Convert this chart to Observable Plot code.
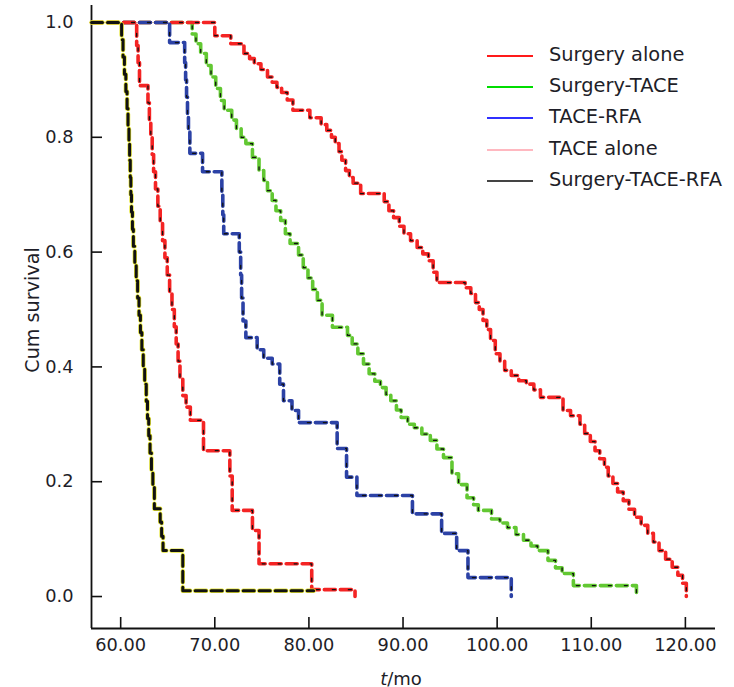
<!DOCTYPE html>
<html><head><meta charset="utf-8">
<script src="https://cdn.jsdelivr.net/npm/d3@7"></script>
<script src="https://cdn.jsdelivr.net/npm/@observablehq/plot@0.6"></script>
<style>
body{margin:0;background:#fff;}
#wrap{position:relative;width:734px;height:687px;font-family:"DejaVu Sans",Verdana,sans-serif;color:#1e1e28;overflow:hidden;}
#wrap svg.plot{position:absolute;left:0;top:0;}
.leg{position:absolute;left:487px;height:20px;}
.leg span.ln{position:absolute;left:0;top:9px;width:46px;height:2px;}
.leg span.tx{position:absolute;left:62px;top:-3px;font-size:19.4px;line-height:24px;white-space:nowrap;}
#ylab{position:absolute;left:32px;top:310px;transform:translate(-50%,-50%) rotate(-90deg);font-size:19.2px;white-space:nowrap;}
#xlab{position:absolute;left:401px;top:678px;transform:translate(-50%,-50%);font-size:18px;white-space:nowrap;}
</style>
</head><body>
<div id="wrap"></div>
<script>
// ---- data (months, cumulative survival) ----
const xTicks = [60, 70, 80, 90, 100, 110, 120];
const yTicks = [0, 0.2, 0.4, 0.6, 0.8, 1.0];
const xDomain = [56.9, 123.2];
const yDomain = [-0.0557, 1.0296];

const legendNames = ["Surgery alone", "Surgery-TACE", "TACE-RFA", "TACE alone", "Surgery-TACE-RFA"];
const legendColors = ["#ff1a1a", "#00dd00", "#3030ff", "#ffb8c0", "#444444"];

const curveYellow = [[56.9,1],[60.1,0.97],[60.25,0.94],[60.4,0.91],[60.55,0.88],[60.68,0.85],[60.78,0.82],[60.88,0.79],[60.95,0.76],[61.02,0.73],[61.08,0.70],[61.15,0.67],[61.25,0.64],[61.35,0.61],[61.5,0.58],[61.65,0.55],[61.8,0.52],[61.95,0.49],[62.1,0.46],[62.25,0.43],[62.4,0.40],[62.55,0.37],[62.72,0.34],[62.85,0.31],[62.98,0.28],[63.12,0.25],[63.27,0.22],[63.42,0.19],[63.58,0.153],[64.2,0.13],[64.35,0.105],[64.5,0.08],[66.6,0.01],[80.5,0.01]];

const curveRedLeft = [[56.9,1],[61.7,0.96],[61.85,0.93],[62.0,0.89],[62.9,0.86],[63.05,0.83],[63.2,0.80],[63.35,0.77],[63.5,0.74],[63.7,0.71],[63.95,0.68],[64.2,0.65],[64.45,0.62],[64.7,0.59],[64.95,0.56],[65.2,0.53],[65.45,0.50],[65.7,0.47],[65.9,0.44],[66.1,0.41],[66.3,0.38],[66.6,0.35],[66.95,0.33],[67.4,0.307],[68.8,0.254],[71.6,0.21],[71.85,0.15],[74.0,0.115],[74.7,0.057],[80.3,0.012],[84.9,0]];

const curveBlue = [[56.9,1],[65.2,0.965],[66.8,0.93],[66.9,0.90],[67.0,0.87],[67.1,0.84],[67.2,0.81],[67.35,0.772],[68.7,0.74],[70.75,0.70],[70.85,0.665],[70.95,0.632],[72.6,0.60],[72.75,0.56],[72.85,0.52],[73.0,0.48],[73.3,0.451],[74.5,0.43],[75.2,0.415],[76.1,0.405],[76.9,0.37],[77.3,0.341],[78.2,0.324],[78.9,0.303],[83.0,0.258],[84.0,0.208],[85.1,0.176],[91.0,0.144],[94.1,0.11],[95.7,0.08],[96.9,0.033],[101.5,0]];

const curveGreen = [[56.9,1],[67.6,0.98],[68.0,0.963],[68.5,0.946],[69.1,0.925],[69.6,0.905],[70.1,0.885],[70.6,0.864],[71.0,0.847],[71.8,0.83],[72.3,0.815],[72.8,0.80],[73.3,0.789],[74.0,0.765],[74.7,0.742],[75.2,0.725],[75.6,0.707],[76.1,0.69],[76.5,0.672],[77.0,0.655],[77.5,0.632],[78.0,0.615],[78.9,0.595],[79.4,0.573],[79.9,0.555],[80.4,0.535],[80.9,0.516],[81.4,0.49],[82.5,0.469],[84.1,0.455],[84.6,0.44],[85.2,0.423],[85.8,0.405],[86.4,0.388],[87.0,0.375],[87.6,0.364],[88.2,0.352],[88.7,0.341],[89.3,0.325],[89.8,0.312],[90.5,0.30],[91.2,0.294],[92.0,0.283],[92.9,0.272],[93.6,0.257],[94.3,0.242],[95.2,0.214],[95.9,0.195],[96.8,0.172],[97.5,0.16],[98.0,0.15],[99.4,0.135],[100.3,0.128],[101.1,0.12],[102.0,0.108],[102.8,0.098],[103.6,0.088],[104.3,0.08],[105.4,0.063],[106.2,0.05],[106.9,0.04],[108.1,0.019],[114.8,0]];

const curveRedRight = [[56.9,1],[70.0,0.977],[71.7,0.963],[73.1,0.946],[73.7,0.937],[74.2,0.928],[74.9,0.918],[75.6,0.905],[76.1,0.896],[76.6,0.887],[77.1,0.878],[77.7,0.865],[78.3,0.847],[80.1,0.834],[81.3,0.822],[81.9,0.812],[82.4,0.80],[82.8,0.789],[83.2,0.775],[83.5,0.76],[83.9,0.742],[84.3,0.73],[84.7,0.72],[85.5,0.702],[88.0,0.688],[88.5,0.672],[89.0,0.66],[89.6,0.645],[90.1,0.632],[90.8,0.62],[91.5,0.608],[92.1,0.597],[92.7,0.585],[93.2,0.565],[93.6,0.547],[96.6,0.538],[97.2,0.528],[97.7,0.512],[98.1,0.50],[98.5,0.481],[98.9,0.465],[99.3,0.446],[99.8,0.423],[100.3,0.41],[100.8,0.394],[101.5,0.385],[102.3,0.376],[103.1,0.37],[103.9,0.36],[104.6,0.347],[107.0,0.324],[107.8,0.315],[108.8,0.30],[109.3,0.284],[109.9,0.27],[110.4,0.254],[110.9,0.24],[111.4,0.225],[111.8,0.21],[112.3,0.197],[112.8,0.182],[113.4,0.167],[114.0,0.152],[114.6,0.138],[115.3,0.124],[116.0,0.11],[116.6,0.095],[117.2,0.08],[117.9,0.065],[118.6,0.051],[119.2,0.037],[119.7,0.023],[120.1,0]];

const curves = [
  {pts: curveGreen, color: "#62c832"},
  {pts: curveRedRight, color: "#f42424"},
  {pts: curveBlue, color: "#2c42a6"},
  {pts: curveRedLeft, color: "#f42424"},
  {pts: curveYellow, color: "#e4e430", yellow: true}
];

const marks = [];
for (const c of curves) {
  const opts = {x: d => d[0], y: d => d[1], curve: "step-after"};
  if (c.yellow) {
    marks.push(Plot.line(c.pts, {...opts, stroke: c.color, strokeWidth: 4.4, strokeDasharray: "11,5"}));
    marks.push(Plot.line(c.pts, {...opts, stroke: "#111", strokeWidth: 3, strokeDasharray: "11,5"}));
  } else {
    marks.push(Plot.line(c.pts, {...opts, stroke: c.color, strokeWidth: 3.6, strokeDasharray: "11,5"}));
    marks.push(Plot.line(c.pts, {...opts, stroke: "#111", strokeWidth: 1.3, strokeDasharray: "3,13", strokeDashoffset: -8}));
  }
}

const W = 734, H = 687, ML = 91, MR = 19, MT = 5, MB = 59, TICK = 11;

const chart = Plot.plot({
  width: W, height: H,
  marginLeft: ML, marginRight: MR, marginTop: MT, marginBottom: MB,
  style: {fontFamily: '"DejaVu Sans", Verdana, sans-serif', fontSize: "17.8px", color: "#1e1e28", background: "transparent"},
  x: {domain: xDomain, label: null},
  y: {domain: yDomain, label: null},
  marks: [
    Plot.axisX(xTicks, {tickSize: 0, tickPadding: 10, tickFormat: d => d.toFixed(2), label: null}),
    Plot.axisY(yTicks, {tickSize: 0, tickPadding: 18, tickFormat: d => d.toFixed(1), label: null}),
    // inward ticks
    Plot.tickX(xTicks, {x: d => d, insetTop: (H - MT - MB) - TICK, stroke: "#111", strokeWidth: 1.6}),
    Plot.tickY(yTicks, {y: d => d, insetRight: (W - ML - MR) - TICK, stroke: "#111", strokeWidth: 1.6}),
    Plot.ruleX([xDomain[0]], {stroke: "#111", strokeWidth: 1.8}),
    Plot.ruleY([yDomain[0]], {stroke: "#111", strokeWidth: 1.8}),
    ...marks
  ]
});
chart.classList.add("plot");
const wrap = document.getElementById("wrap");
wrap.appendChild(chart);

legendNames.forEach((name, i) => {
  const d = document.createElement("div");
  d.className = "leg";
  d.style.top = (46 + i * 31.2) + "px";
  d.innerHTML = `<span class="ln" style="background:${legendColors[i]}"></span><span class="tx">${name}</span>`;
  wrap.appendChild(d);
});
const yl = document.createElement("div"); yl.id = "ylab"; yl.textContent = "Cum survival"; wrap.appendChild(yl);
const xl = document.createElement("div"); xl.id = "xlab"; xl.innerHTML = "<i>t</i>/mo"; wrap.appendChild(xl);
</script>
</body></html>
